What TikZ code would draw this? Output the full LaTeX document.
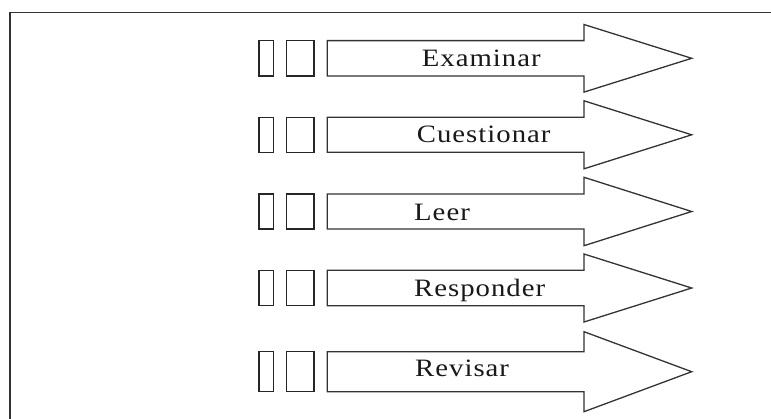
\documentclass[tikz,border=0pt]{standalone}
\usepackage{fontspec}
\setmainfont{Liberation Serif}[FakeStretch=1.15,LetterSpace=4]
\begin{document}
\begin{tikzpicture}[x=1pt,y=-1pt,
  frameline/.style={draw=black!80,line width=1.8pt},
  arrowshape/.style={draw=black!80,line width=1.3pt,line join=miter,fill=white},
  smallbox/.style={draw=black!85,line width=1.3pt},
  lbl/.style={anchor=base west,inner sep=0pt,font=\fontsize{25}{30}\selectfont,text=black!90}]
\useasboundingbox (0,0) rectangle (771,418);
\draw[frameline] (10,420) -- (10,12.5) -- (773,12.5);
\foreach \c/\b/\h/\tx/\ty/\t/\n in {
  58.3/17.7/33.8/421.7/66.7/Examinar/a,
  134.8/17.5/34/416.7/142.7/Cuestionar/b,
  211.5/17.5/34.2/414/220.7/Leer/c,
  288/17.8/34/414/296.7/Responder/d,
  371.7/20/40/415/376.7/Revisar/e}{
  \draw[smallbox] (259,\c-\b) rectangle (273.7,\c+\b);
  \draw[smallbox] (286.7,\c-\b) rectangle (314,\c+\b);
  \draw[arrowshape] (327.3,\c-\b) -- (584,\c-\b) -- (584,\c-\h) -- (691.7,\c)
     -- (584,\c+\h) -- (584,\c+\b) -- (327.3,\c+\b) -- cycle;
  \node[lbl] (lab\n) at (\tx,\ty) {\t};
}
\end{tikzpicture}
\end{document}
